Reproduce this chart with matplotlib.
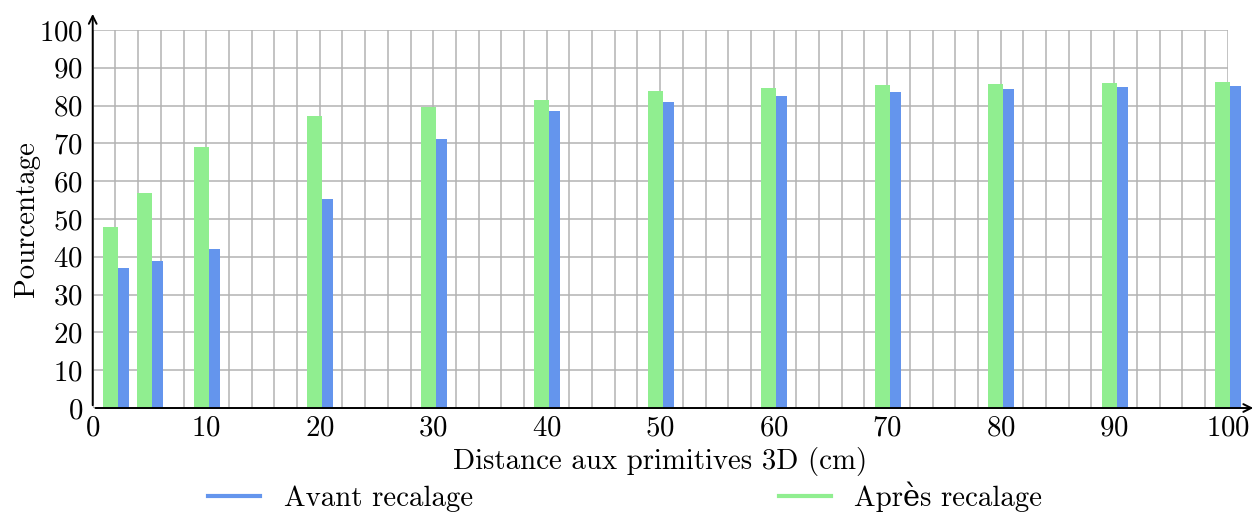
import matplotlib.pyplot as plt
import numpy as np

plt.rcParams['font.family'] = ['cmr10', 'DejaVu Serif']
plt.rcParams['axes.formatter.use_mathtext'] = True

distances = [2, 5, 10, 20, 30, 40, 50, 60, 70, 80, 90, 100]
avant = [37, 39, 42, 55.4, 71.1, 78.6, 81.0, 82.5, 83.7, 84.4, 84.9, 85.1]
apres = [47.9, 56.9, 69.0, 77.2, 79.5, 81.6, 83.9, 84.7, 85.4, 85.7, 85.9, 86.2]

blue = '#6495ED'
green = '#90EE90'
fs = 20.8

fig = plt.figure(figsize=(12.58, 5.12), dpi=100)
ax = fig.add_axes([0.0737, 0.2031, 0.9022, 0.7383])

x = np.array(distances)
ax.bar(x - 1.1, apres, width=1.33, align='edge', color=green, clip_on=False, zorder=2)
ax.bar(x + 0.23, avant, width=0.95, align='edge', color=blue, clip_on=False, zorder=2)

ax.set_xlim(0, 100)
ax.set_ylim(0, 100)
ax.set_xticks(range(0, 101, 10))
ax.set_yticks(range(0, 101, 10))
ax.set_xticks(range(0, 101, 2), minor=True)
ax.grid(True, which='both', color='#b3b3b3', linewidth=1.1)
ax.set_axisbelow(True)
ax.tick_params(which='both', length=0, labelsize=fs)
ax.tick_params(axis='x', pad=5)
ax.tick_params(axis='y', pad=7)

for s in ['top', 'right', 'left', 'bottom']:
    ax.spines[s].set_visible(False)

# axes with arrows
ax.annotate('', xy=(0, 1.05), xytext=(0, 0), xycoords='axes fraction',
            arrowprops=dict(arrowstyle='->', color='black', lw=1.4, mutation_scale=14))
ax.annotate('', xy=(1.025, 0), xytext=(0, 0), xycoords='axes fraction',
            arrowprops=dict(arrowstyle='->', color='black', lw=1.4, mutation_scale=14))

ax.set_xlabel('Distance aux primitives 3D (cm)', fontsize=fs, labelpad=4)
ax.set_ylabel('Pourcentage', fontsize=fs, labelpad=-1)

h1, = ax.plot([], [], color=blue, lw=3, label='Avant recalage')
h2, = ax.plot([], [], color=green, lw=3, label='Après recalage')
fig.legend(handles=[h1, h2], loc='center', bbox_to_anchor=(0.497, 0.03),
           ncol=2, frameon=False, fontsize=fs, handlelength=1.8,
           handletextpad=0.8, columnspacing=10.6)

fig.savefig('out.png', dpi=100)
